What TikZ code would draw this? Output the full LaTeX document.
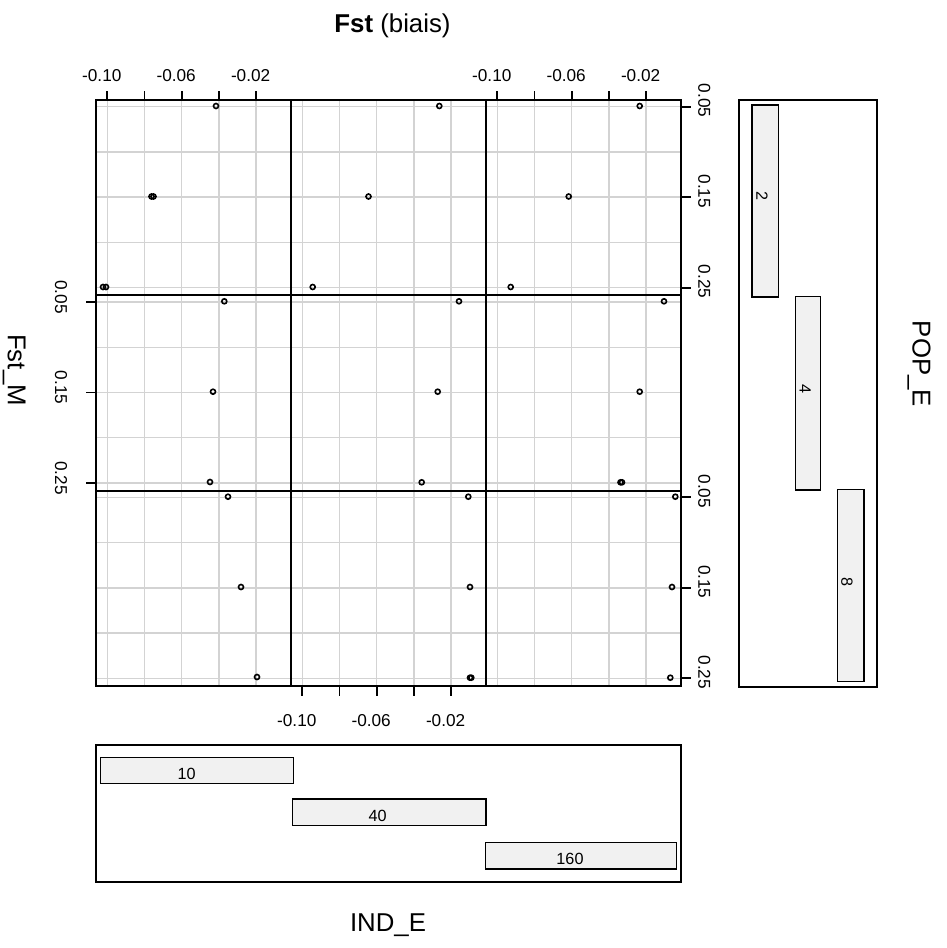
\documentclass[tikz,border=0pt]{standalone}
\usepackage{fontspec}
\setmainfont{Liberation Sans}
\definecolor{gridgray}{HTML}{D3D3D3}
\definecolor{barfill}{HTML}{F1F1F1}
\begin{document}
\begin{tikzpicture}[x=1pt,y=-1pt,
  gridl/.style={draw=gridgray,line width=1.45pt},
  frame/.style={draw=black,line width=1.9pt},
  tickl/.style={draw=black,line width=1.7pt},
  ptc/.style={draw=black,line width=1.6pt},
  gbox/.style={draw=black,line width=1.6pt},
  bar/.style={draw=black,fill=barfill,line width=1.5pt},
  tlab/.style={font=\fontsize{17.2}{20}\selectfont,inner sep=0pt,anchor=base},
  blab/.style={font=\fontsize{16.2}{19}\selectfont,inner sep=0pt,anchor=base},
  ttl/.style={font=\fontsize{25.8}{30}\selectfont,inner sep=0pt,anchor=base}]
\useasboundingbox (0,0) rectangle (947,948);
% grid
\foreach \c in {96,291,486}{
  \foreach \r in {100,295.3,490.6}{
    \foreach \k in {0,...,4}{
      \draw[gridl] ({\c+11.3+37.2*\k},\r) -- ++(0,195.3);
      \draw[gridl] (\c,{\r+6.7+45.25*\k}) -- ++(195,0);
    }
  }
}
% frames
\foreach \c in {96,291,486}{
  \foreach \r in {100,295.3,490.6}{
    \draw[frame] (\c,\r) rectangle ++(195,195.3);
  }
}
% top axes (columns 1 and 3)
\foreach \c in {96,486}{
  \foreach \k in {0,...,4}{
    \draw[tickl] ({\c+11.3+37.2*\k},100) -- ++(0,-9.5);
  }
  \node[tlab] at ({\c+11.3-5.5},81.7) {-0.10};
  \node[tlab] at ({\c+11.3+74.4-5.5},81.7) {-0.06};
  \node[tlab] at ({\c+11.3+148.8-5.5},81.7) {-0.02};
}
% bottom axis (column 2)
\foreach \k in {0,...,4}{
  \draw[tickl] ({291+11.3+37.2*\k},686) -- ++(0,10);
}
\node[tlab] at ({291+11.3-5.5},726.7) {-0.10};
\node[tlab] at ({291+11.3+74.4-5.5},726.7) {-0.06};
\node[tlab] at ({291+11.3+148.8-5.5},726.7) {-0.02};
% right axes (rows 1 and 3)
\foreach \r in {100,490.6}{
  \foreach \k in {0,2,4}{
    \draw[tickl] (681,{\r+6.7+45.25*\k}) -- ++(9.5,0);
  }
  \node[tlab,rotate=-90] at (698.3,{\r+6.7-6}) {0.05};
  \node[tlab,rotate=-90] at (698.3,{\r+6.7+90.5-6}) {0.15};
  \node[tlab,rotate=-90] at (698.3,{\r+6.7+181-6}) {0.25};
}
% left axis (row 2)
\foreach \k in {0,2,4}{
  \draw[tickl] (96,{295.3+6.7+45.25*\k}) -- ++(-10,0);
}
\node[tlab,rotate=-90] at (55,{295.3+6.7-5}) {0.05};
\node[tlab,rotate=-90] at (55,{295.3+6.7+90.5-5}) {0.15};
\node[tlab,rotate=-90] at (55,{295.3+6.7+181-5}) {0.25};
% points
\foreach \x/\y in {216/106, 151.5/196.5, 153.5/196.5, 103/287, 106/287,
  439.3/106, 368.5/196.5, 312.7/287,
  639.7/106, 568.7/196.5, 510.7/287,
  224.3/301.3, 213/391.7, 210/482,
  459/301.3, 437.7/391.7, 421.7/482.3,
  664/301.3, 639.7/391.7, 620.5/482.3, 622/482.3,
  228/496.7, 241/587, 257/677,
  468.3/496.7, 470/587, 470/677.7, 471.3/677.7,
  675.3/496.7, 672/587, 670.3/677.7}{
  \draw[ptc] (\x,\y) circle[radius=2.5];
}
% given panel IND_E (bottom)
\draw[gbox] (96,745) rectangle (681,881.7);
\draw[bar] (100.7,757.3) rectangle (293.7,783.7);
\draw[bar] (292.7,799) rectangle (486,825.7);
\draw[bar] (485.3,842.7) rectangle (676.3,869);
\node[blab] (b10) at (186.7,779.3) {10};
\node[blab] (b40) at (377.7,821) {40};
\node[blab] (b160) at (570,864.7) {160};
% given panel POP_E (right)
\draw[gbox] (739,100) rectangle (877,687);
\draw[bar] (752,105) rectangle (778.3,297);
\draw[bar] (795.7,296.7) rectangle (820.7,490);
\draw[bar] (837.3,489.3) rectangle (864,681.7);
\node[blab,rotate=-90] (p2) at (756.3,195.7) {2};
\node[blab,rotate=-90] (p4) at (799.7,389) {4};
\node[blab,rotate=-90] (p8) at (841.3,581.7) {8};
% titles
\node[ttl] (tfst) at (392.5,32.7) {\textbf{Fst} (biais)};
\node[ttl,rotate=-90] (tfstm) at (8,370) {Fst\_M};
\node[ttl,rotate=-90] (tpop) at (912.7,364) {POP\_E};
\node[ttl] (tind) at (388,931) {IND\_E};
\end{tikzpicture}
\end{document}
